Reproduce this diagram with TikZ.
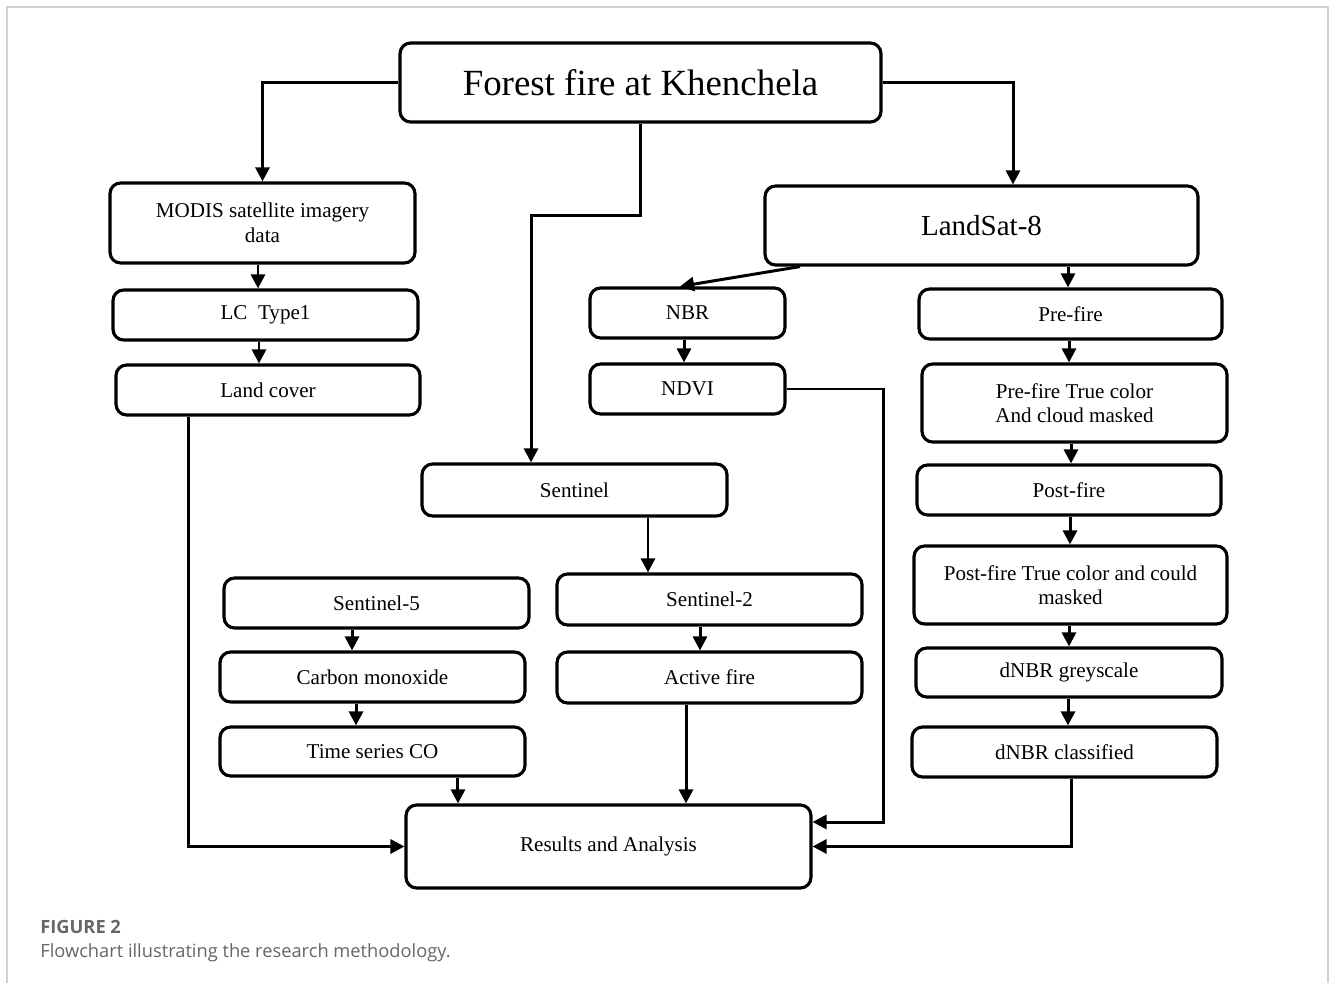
\documentclass[tikz,border=0pt]{standalone}
\usepackage{fontspec}
\setmainfont{Liberation Serif}
\newfontfamily\capfont{Open Sans}
\usetikzlibrary{arrows.meta}
\definecolor{framegray}{HTML}{D0D0D0}
\definecolor{capgray}{HTML}{666666}
\tikzset{
  box/.style={draw=black, line width=1.8pt, rounded corners=6pt, align=center,
    inner sep=2pt, font=\fontsize{12}{14}\selectfont},
  arr/.style={line width=1.7pt, -{Triangle[width=8pt,length=8pt]}},
}
\newcommand\vconn[3]{\coordinate (tmp) at ([xshift=#3]#1.south);
  \draw[arr] (tmp) -- (tmp |- #2.north);}
\begin{document}
\begin{tikzpicture}[x=0.02cm,y=-0.02cm]
\useasboundingbox (0,0) rectangle (1331,983);
% frame
\draw[framegray, line width=0.9pt] (7,983) -- (7,7) -- (1328,7) -- (1328,983);

% nodes
\node[box, minimum width=9.62cm, minimum height=1.58cm, font=\fontsize{21}{24}\selectfont] (title) at (640.5,82.5) {Forest fire at Khenchela};
\node[box, minimum width=6.10cm, minimum height=1.60cm] (modis) at (262.5,223) {MODIS satellite imagery\\data};
\node[box, minimum width=6.10cm, minimum height=1.00cm] (lc) at (265.5,315) {LC\ \ Type1};
\node[box, minimum width=6.08cm, minimum height=1.00cm] (land) at (268,390) {Land cover};
\node[box, minimum width=8.66cm, minimum height=1.58cm, font=\fontsize{16.5}{19}\selectfont] (landsat) at (981.5,225.5) {LandSat-8};
\node[box, minimum width=3.90cm, minimum height=1.00cm] (nbr) at (687.5,313) {NBR};
\node[box, minimum width=3.90cm, minimum height=1.00cm] (ndvi) at (687.5,389) {NDVI};
\node[box, minimum width=6.06cm, minimum height=1.00cm] (pre) at (1070.5,314) {Pre-fire};
\node[box, minimum width=6.10cm, minimum height=1.56cm] (pretrue) at (1074.5,403) {Pre-fire True color\\And cloud masked};
\node[box, minimum width=6.08cm, minimum height=1.00cm] (post) at (1069,490) {Post-fire};
\node[box, minimum width=6.26cm, minimum height=1.56cm] (posttrue) at (1070.5,585) {Post-fire True color and could\\masked};
\node[box, minimum width=6.12cm, minimum height=0.98cm] (grey) at (1069,672.5) {dNBR greyscale};
\node[box, minimum width=6.10cm, minimum height=1.00cm] (cls) at (1064.5,752) {dNBR classified};
\node[box, minimum width=6.10cm, minimum height=1.04cm] (sent) at (574.5,490) {Sentinel};
\node[box, minimum width=6.10cm, minimum height=1.00cm] (s5) at (376.5,603) {Sentinel-5};
\node[box, minimum width=6.10cm, minimum height=1.00cm] (co) at (372.5,677) {Carbon monoxide};
\node[box, minimum width=6.10cm, minimum height=0.98cm] (ts) at (372.5,751.5) {Time series CO};
\node[box, minimum width=6.10cm, minimum height=1.02cm] (s2) at (709.5,599.5) {Sentinel-2};
\node[box, minimum width=6.10cm, minimum height=1.02cm] (af) at (709.5,677.5) {Active fire};
\node[box, minimum width=8.10cm, minimum height=1.66cm] (res) at (608.5,846.5) {Results and Analysis};

% connectors from title
\draw[arr] (title.west) -| (modis.north);
\draw[arr] (title.east) -| ([xshift=0.63cm]landsat.north);
\draw[arr] (title.south) -- ++(0,92) -| ([xshift=-0.87cm]sent.north);

% left column
\vconn{modis}{lc}{-0.09cm}
\vconn{lc}{land}{-0.13cm}
\draw[arr] ([xshift=-1.6cm]land.south) |- (res.west);

% LandSat branches
\draw[arr] ([xshift=-3.63cm]landsat.south) -- ([xshift=-0.15cm]nbr.north);
\coordinate (lsp) at (landsat.south -| pre.north);
\draw[arr] ([xshift=-0.05cm]lsp) -- ([xshift=-0.05cm]pre.north);
\vconn{nbr}{ndvi}{-0.07cm}
\draw[arr] (ndvi.east) -- ++(97,0) |- ([yshift=0.49cm]res.east);

% right chain
\vconn{pre}{pretrue}{-0.03cm}
\vconn{pretrue}{post}{-0.07cm}
\vconn{post}{posttrue}{0.02cm}
\vconn{posttrue}{grey}{-0.03cm}
\vconn{grey}{cls}{-0.02cm}
\draw[arr] ([xshift=0.13cm]cls.south) |- (res.east);

% sentinel branches
\vconn{sent}{s2}{1.47cm}
\vconn{s5}{co}{-0.49cm}
\vconn{co}{ts}{-0.33cm}
\vconn{ts}{res}{1.71cm}
\vconn{s2}{af}{-0.19cm}
\vconn{af}{res}{-0.47cm}

% caption
\node[anchor=base west, inner sep=0pt, text=capgray, font=\capfont\bfseries\fontsize{10.4}{12}\selectfont] (cap1) at (40,933) {FIGURE 2};
\node[anchor=base west, inner sep=0pt, text=capgray, font=\capfont\fontsize{10.4}{12}\selectfont] (cap2) at (40,957) {Flowchart illustrating the research methodology.};
\end{tikzpicture}
\end{document}
